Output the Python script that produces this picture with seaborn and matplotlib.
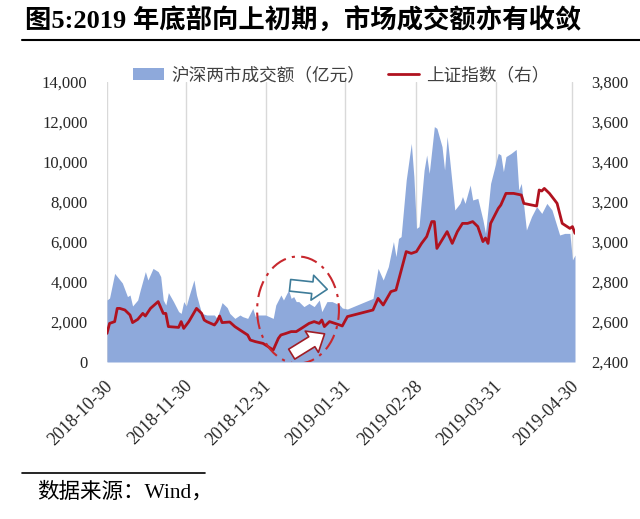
import numpy as np
import pandas as pd
import matplotlib
matplotlib.use('Agg')
import matplotlib.pyplot as plt
import matplotlib.dates as mdates
import matplotlib.ticker as mticker
from matplotlib.patches import Ellipse, FancyArrowPatch
from matplotlib.lines import Line2D
from matplotlib.transforms import ScaledTranslation
import seaborn as sns

# 沪深两市成交额（亿元）
vol_dates = ['2018-10-30', '2018-10-31', '2018-11-02', '2018-11-03', '2018-11-05', '2018-11-07',
             '2018-11-08', '2018-11-09', '2018-11-11', '2018-11-12', '2018-11-14', '2018-11-15',
             '2018-11-17', '2018-11-19', '2018-11-20', '2018-11-21', '2018-11-22', '2018-11-23',
             '2018-11-25', '2018-11-27', '2018-11-28', '2018-11-29', '2018-11-30', '2018-12-01',
             '2018-12-03', '2018-12-04', '2018-12-06', '2018-12-08', '2018-12-11', '2018-12-12',
             '2018-12-14', '2018-12-16', '2018-12-17', '2018-12-19', '2018-12-21', '2018-12-22',
             '2018-12-24', '2018-12-26', '2018-12-27', '2018-12-28', '2018-12-31', '2019-01-03',
             '2019-01-04', '2019-01-06', '2019-01-07', '2019-01-08', '2019-01-09', '2019-01-10',
             '2019-01-11', '2019-01-12', '2019-01-13', '2019-01-15', '2019-01-17', '2019-01-19',
             '2019-01-21', '2019-01-22', '2019-01-24', '2019-01-26', '2019-01-29', '2019-01-30',
             '2019-02-01', '2019-02-11', '2019-02-13', '2019-02-15', '2019-02-17', '2019-02-19',
             '2019-02-20', '2019-02-21', '2019-02-22', '2019-02-24', '2019-02-26', '2019-02-27',
             '2019-02-28', '2019-03-01', '2019-03-03', '2019-03-04', '2019-03-05', '2019-03-07',
             '2019-03-08', '2019-03-10', '2019-03-11', '2019-03-12', '2019-03-13', '2019-03-15',
             '2019-03-17', '2019-03-18', '2019-03-19', '2019-03-21', '2019-03-22', '2019-03-24',
             '2019-03-26', '2019-03-27', '2019-03-29', '2019-03-30', '2019-04-01', '2019-04-02',
             '2019-04-03', '2019-04-04', '2019-04-06', '2019-04-08', '2019-04-09', '2019-04-10',
             '2019-04-12', '2019-04-14', '2019-04-16', '2019-04-18', '2019-04-20', '2019-04-22',
             '2019-04-24', '2019-04-25', '2019-04-27', '2019-04-29', '2019-04-30', '2019-05-01']
vol_values = [3100, 3200, 4430, 4270, 3950, 3270,
              3350, 2800, 3100, 3600, 4520, 4100,
              4680, 4520, 4270, 3100, 2850, 3470,
              3020, 2520, 2430, 3020, 2800, 3270,
              4100, 3350, 2430, 2350, 2350, 2180,
              2970, 2720, 2430, 2180, 2350, 2270,
              2180, 2680, 2270, 2350, 2350, 2180,
              2850, 3350, 3100, 3350, 3600, 3180,
              3270, 3020, 3020, 2770, 2930, 2770,
              3100, 2520, 3020, 3020, 2850, 2700,
              2650, 3180, 4680, 4100, 4770, 6020,
              5270, 6180, 6270, 9100, 10930, 9270,
              6680, 6770, 9600, 10350, 9430, 11770,
              11680, 10770, 9600, 11270, 10100, 7600,
              7930, 8270, 7930, 8850, 8100, 8180,
              7100, 6430, 8930, 9430, 10430, 10350,
              9520, 10270, 10430, 10630, 8600, 8930,
              6600, 7270, 7770, 7430, 7930, 7600,
              6770, 6350, 6430, 6430, 5100, 5350]

# 上证指数（右）
idx_dates = ['2018-10-30', '2018-10-31', '2018-11-02', '2018-11-03', '2018-11-04', '2018-11-06',
             '2018-11-08', '2018-11-09', '2018-11-11', '2018-11-13', '2018-11-14', '2018-11-16',
             '2018-11-19', '2018-11-21', '2018-11-22', '2018-11-23', '2018-11-27', '2018-11-28',
             '2018-11-29', '2018-12-01', '2018-12-04', '2018-12-06', '2018-12-07', '2018-12-08',
             '2018-12-11', '2018-12-12', '2018-12-13', '2018-12-14', '2018-12-17', '2018-12-19',
             '2018-12-21', '2018-12-24', '2018-12-25', '2018-12-27', '2018-12-30', '2018-12-31',
             '2019-01-03', '2019-01-05', '2019-01-06', '2019-01-08', '2019-01-10', '2019-01-12',
             '2019-01-14', '2019-01-17', '2019-01-19', '2019-01-21', '2019-01-22', '2019-01-23',
             '2019-01-25', '2019-01-29', '2019-01-30', '2019-02-01', '2019-02-11', '2019-02-13',
             '2019-02-15', '2019-02-18', '2019-02-20', '2019-02-24', '2019-02-26', '2019-02-28',
             '2019-03-02', '2019-03-04', '2019-03-06', '2019-03-07', '2019-03-08', '2019-03-10',
             '2019-03-12', '2019-03-14', '2019-03-16', '2019-03-18', '2019-03-20', '2019-03-22',
             '2019-03-24', '2019-03-26', '2019-03-27', '2019-03-28', '2019-03-29', '2019-04-01',
             '2019-04-02', '2019-04-04', '2019-04-07', '2019-04-10', '2019-04-11', '2019-04-14',
             '2019-04-16', '2019-04-17', '2019-04-18', '2019-04-19', '2019-04-21', '2019-04-23',
             '2019-04-24', '2019-04-26', '2019-04-29', '2019-04-30', '2019-05-01']
idx_values = [2543, 2593, 2602, 2668, 2668, 2660,
              2635, 2597, 2613, 2643, 2630, 2668,
              2702, 2643, 2643, 2577, 2573, 2602,
              2568, 2602, 2668, 2643, 2610, 2602,
              2585, 2602, 2630, 2597, 2600, 2577,
              2560, 2535, 2510, 2502, 2493, 2485,
              2460, 2518, 2535, 2543, 2552, 2552,
              2568, 2593, 2602, 2593, 2610, 2577,
              2602, 2585, 2580, 2627, 2660, 2718,
              2685, 2752, 2760, 2952, 2943, 2952,
              2993, 3027, 3102, 3102, 2968, 3010,
              3052, 2993, 3052, 3093, 3093, 3102,
              3077, 3002, 3020, 2993, 3093, 3168,
              3185, 3243, 3243, 3235, 3193, 3185,
              3180, 3260, 3255, 3268, 3243, 3210,
              3193, 3093, 3068, 3077, 3043]

tick_dates = ['2018-10-30', '2018-11-30', '2018-12-31', '2019-01-31',
              '2019-02-28', '2019-03-31', '2019-04-30']

sns.set_theme(style='white')
plt.rcParams['font.family'] = ['Liberation Serif', 'Noto Sans CJK SC', 'DejaVu Sans']

vol = pd.DataFrame({'date': pd.to_datetime(vol_dates), 'value': vol_values})
idx = pd.DataFrame({'date': pd.to_datetime(idx_dates), 'value': idx_values})

fig = plt.figure(figsize=(6.4, 5.19), dpi=100)
ax = fig.add_axes([107/640, 1 - 362/519, (575 - 107)/640, 280/519])

ax.fill_between(vol['date'], vol['value'], color='#8EA9DB', lw=0,
                label='沪深两市成交额（亿元）')
ax.set_axisbelow(True)
ax.grid(axis='x', color='#D9D9D9', lw=1)
ax.grid(axis='y', visible=False)

ax2 = ax.twinx()
sns.lineplot(data=idx, x='date', y='value', ax=ax2, color='#B0121F', lw=2,
             label='上证指数（右）', legend=False)

ax.set_xlim(pd.Timestamp('2018-10-30'), pd.Timestamp('2019-05-01'))
ax.set_ylim(0, 14000)
ax2.set_ylim(2400, 3800)
ax.set_xticks(pd.to_datetime(tick_dates))
ax.xaxis.set_major_formatter(mdates.DateFormatter('%Y-%m-%d'))
ax.set_yticks(np.arange(0, 14001, 2000))
ax2.set_yticks(np.arange(2400, 3801, 200))
ax.yaxis.set_major_formatter(mticker.StrMethodFormatter('{x:,.0f}'))
ax2.yaxis.set_major_formatter(mticker.StrMethodFormatter('{x:,.0f}'))
ax.set_xlabel('')
ax.set_ylabel('')
ax2.set_xlabel('')
ax2.set_ylabel('')

for a in (ax, ax2):
    for s in a.spines.values():
        s.set_visible(False)
    a.tick_params(length=0, labelsize=12, labelcolor='#262626')
ax.tick_params(axis='y', pad=14)
ax2.tick_params(axis='y', pad=12)
ax.tick_params(axis='x', pad=6, labelsize=13)
shift = ScaledTranslation(-2/72, -5/72, fig.dpi_scale_trans)
for lab in ax.get_xticklabels():
    lab.set_rotation(45)
    lab.set_ha('right')
    lab.set_rotation_mode('anchor')
    lab.set_transform(lab.get_transform() + shift)

# 圈注和箭头
t0 = pd.Timestamp('2018-10-30')
def dnum(days):
    return mdates.date2num(t0 + pd.Timedelta(days=days))

ell = Ellipse((dnum(74.7), 2660), width=32, height=535, fill=False,
              edgecolor='#C8282E', lw=1.5, ls=(0, (8, 3, 1.5, 3)), zorder=5)
ax2.add_patch(ell)
arr1 = FancyArrowPatch((dnum(70.5), 2785), (dnum(87.2), 2762),
                       arrowstyle='simple,head_length=0.9,head_width=1.5,tail_width=0.7',
                       mutation_scale=12, fc='white', ec='#3E7C99', lw=1.2, zorder=6)
ax2.add_patch(arr1)
arr2 = FancyArrowPatch((dnum(71.3), 2432), (dnum(86), 2548),
                       arrowstyle='simple,head_length=0.9,head_width=1.5,tail_width=0.7',
                       mutation_scale=12, fc='white', ec='#A01D26', lw=1.2, zorder=6)
ax2.add_patch(arr2)

h1, l1 = ax.get_legend_handles_labels()
h2, l2 = ax2.get_legend_handles_labels()
fig.legend(h1 + h2, l1 + l2, loc='center', bbox_to_anchor=(341/640, 1 - 75/519),
           ncol=2, frameon=False, handlelength=1.75, handletextpad=0.4,
           columnspacing=1.3, prop={'family': ['Noto Sans CJK SC'], 'size': 12.7},
           labelcolor='#404040')

fig.text(25/640, 1 - 21/519, '图5:2019 年底部向上初期，市场成交额亦有收敛',
         fontsize=19, fontweight='bold', ha='left', va='center', color='black')
fig.add_artist(Line2D([22/640, 1], [1 - 40/519] * 2, color='black', lw=1.5))
fig.add_artist(Line2D([22/640, 205/640], [1 - 473/519] * 2, color='black', lw=1.2))
fig.text(37/640, 1 - 493/519, '数据来源：Wind，', fontsize=15.5, ha='left', va='center',
         color='black')

fig.savefig('out.png', dpi=100)
